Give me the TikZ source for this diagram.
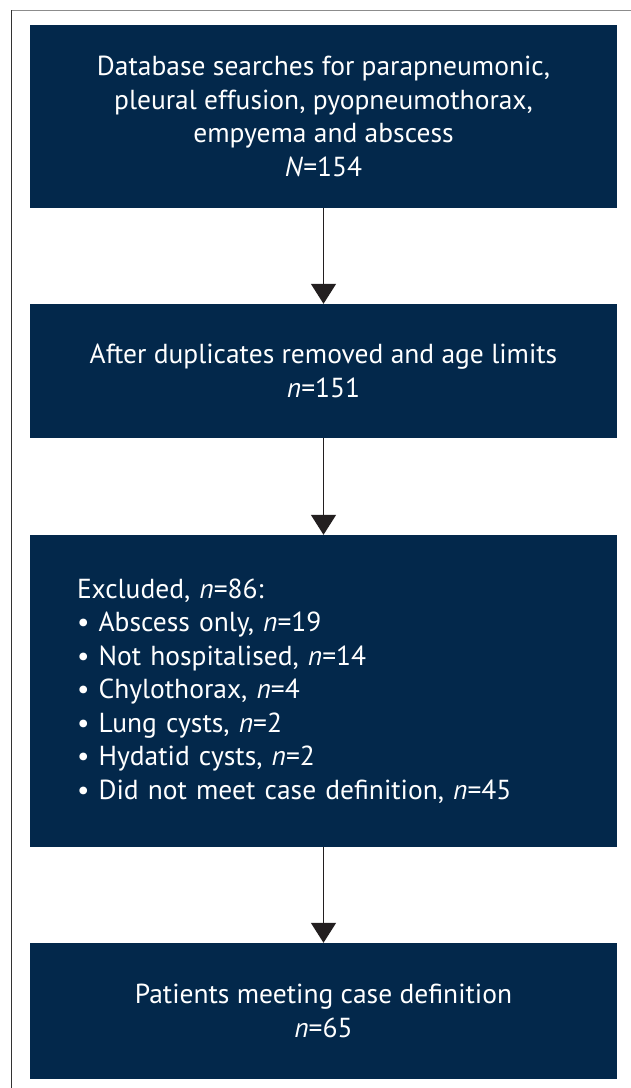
\documentclass[tikz,border=0pt]{standalone}
\usepackage{fontspec}
\setmainfont{PT Sans}
\usetikzlibrary{arrows.meta}
\definecolor{navy}{RGB}{3,40,75}
\definecolor{arrowgray}{RGB}{35,31,32}
\begin{document}
\begin{tikzpicture}[x=1pt,y=-1pt,
  box/.style={fill=navy,draw=none,text=white,minimum width=587pt,inner sep=0pt,
    font=\fontsize{27.5}{33.5}\selectfont,align=center},
  flow/.style={draw=arrowgray,line width=1.5pt,-{Triangle[width=25pt,length=20pt]}}]
\useasboundingbox (0,0) rectangle (631,1088);
\draw[gray!90,line width=1pt] (11,10) -- (631,10);
\draw[black!80,line width=1pt] (11,10) -- (11,1088);
\node[box,minimum height=183pt] (b1) at (323.5,116.5) {Database searches for parapneumonic,\\pleural effusion, pyopneumothorax,\\empyema and abscess\\\textit{N}=154};
\node[box,minimum height=134pt] (b2) at (323.5,371) {After duplicates removed and age limits\\\textit{n}=151};
\node[box,minimum height=312pt,align=left,text width=493pt,inner xsep=47pt] (b3) at (323.5,691) {Excluded, \textit{n}=86:\\
\textbullet\ Abscess only, \textit{n}=19\\
\textbullet\ Not hospitalised, \textit{n}=14\\
\textbullet\ Chylothorax, \textit{n}=4\\
\textbullet\ Lung cysts, \textit{n}=2\\
\textbullet\ Hydatid cysts, \textit{n}=2\\
\textbullet\ Did not meet case definition, \textit{n}=45};
\node[box,minimum height=136pt] (b4) at (323.5,1011) {Patients meeting case definition\\\textit{n}=65};
\draw[flow] (b1) -- (b2);
\draw[flow] (b2) -- (b3);
\draw[flow] (b3) -- (b4);
\end{tikzpicture}
\end{document}
